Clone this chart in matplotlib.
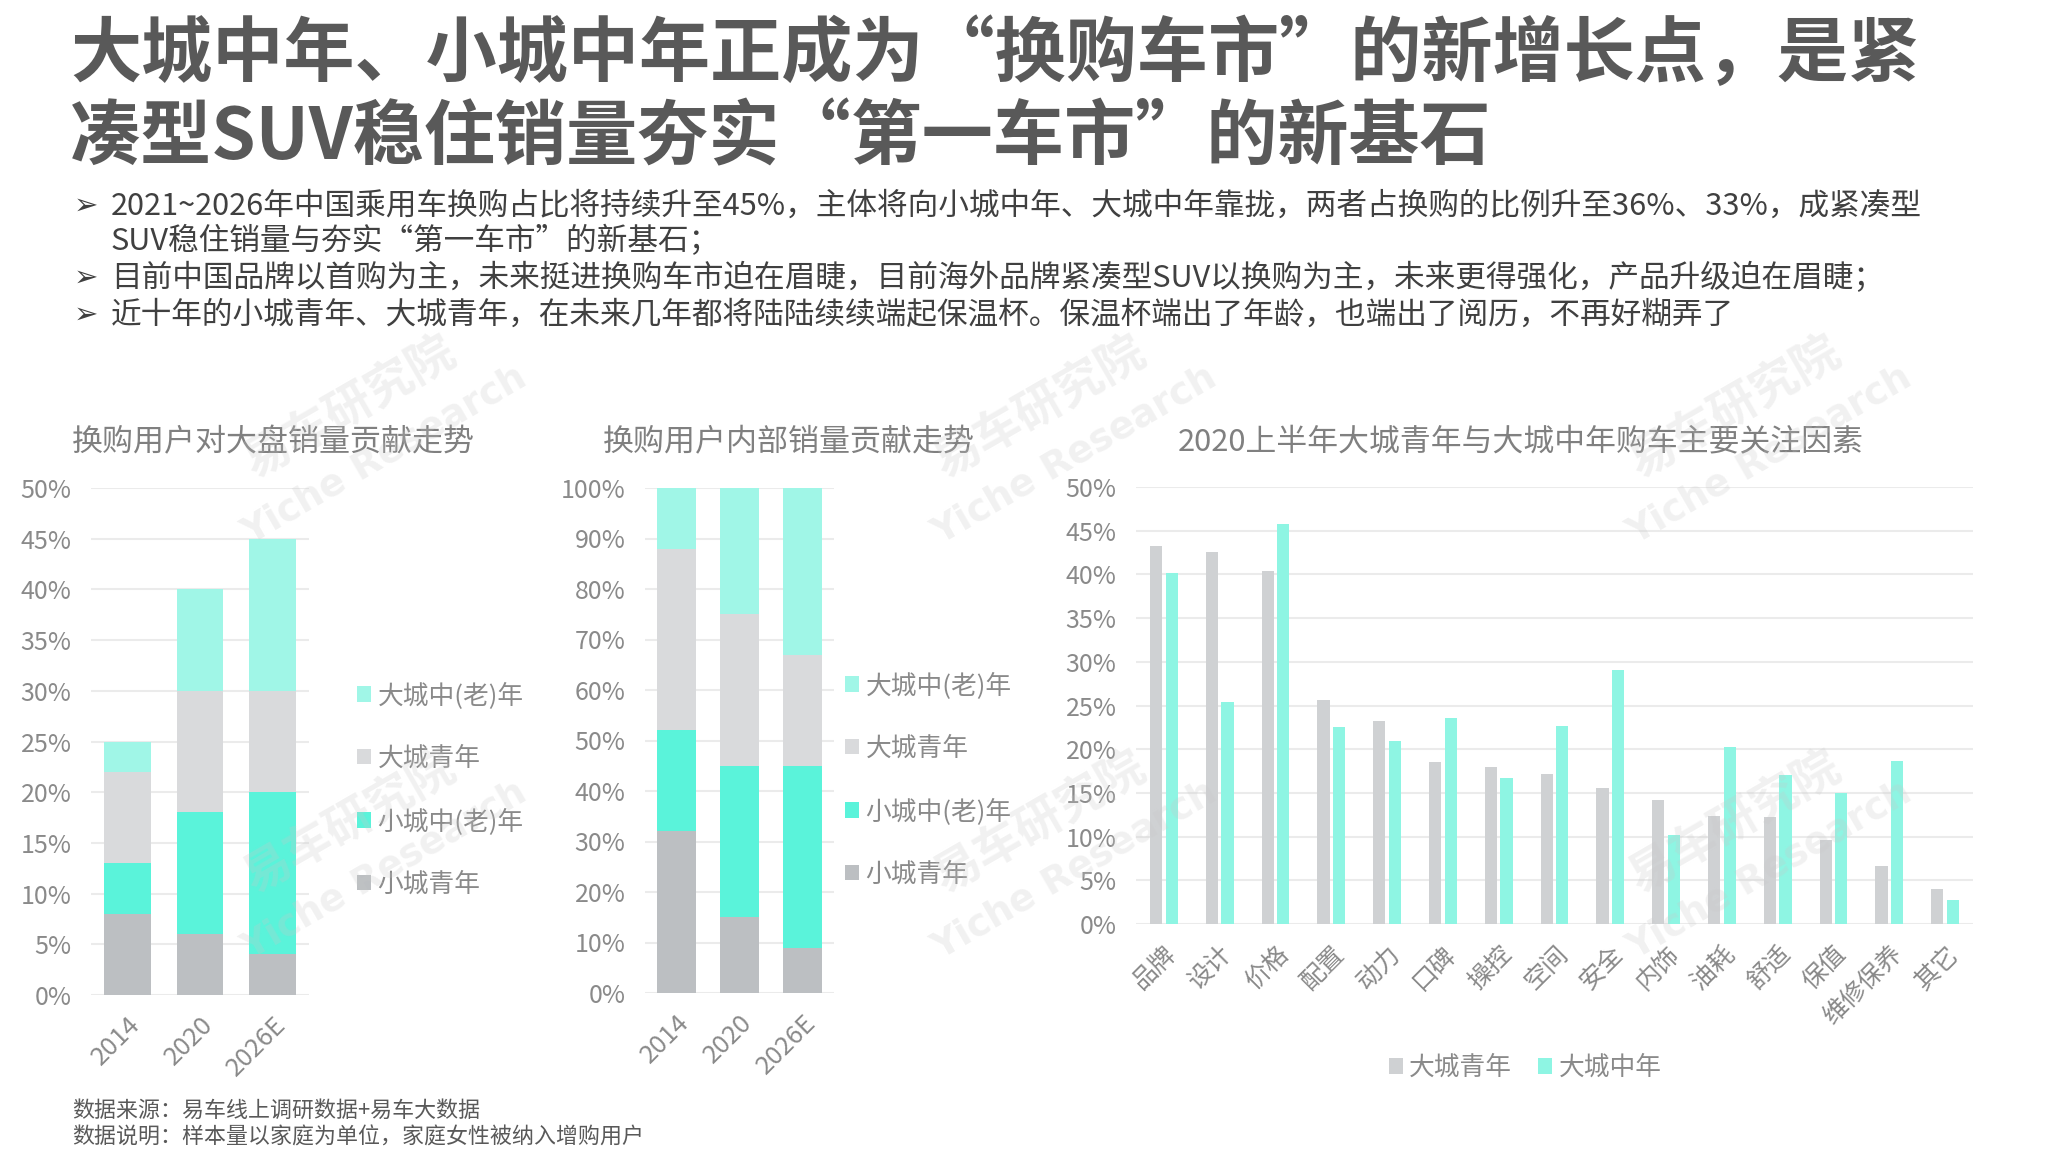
import numpy as np
import matplotlib
matplotlib.use('Agg')
import matplotlib.pyplot as plt

plt.rcParams['font.family'] = ['Noto Sans CJK SC', 'DejaVu Sans']

# chart 1 / chart 2 data
years = ['2014', '2020', '2026E']
series_names = ['小城青年', '小城中(老)年', '大城青年', '大城中(老)年']
share_total = {
    '小城青年': [8, 6, 4],
    '小城中(老)年': [5, 12, 16],
    '大城青年': [9, 12, 10],
    '大城中(老)年': [3, 10, 15],
}
share_inner = {
    '小城青年': [32, 15, 9],
    '小城中(老)年': [20, 30, 36],
    '大城青年': [36, 30, 22],
    '大城中(老)年': [12, 25, 33],
}
series_colors = ['#bcbfc2', '#5af3da', '#d9dadc', '#a0f6e7']

# chart 3 data
factors = ['品牌', '设计', '价格', '配置', '动力', '口碑', '操控', '空间', '安全',
           '内饰', '油耗', '舒适', '保值', '维修保养', '其它']
young = [43.2, 42.6, 40.4, 25.6, 23.2, 18.5, 18.0, 17.2, 15.6, 14.2, 12.3, 12.2, 9.6, 6.6, 4.0]
middle = [40.2, 25.4, 45.8, 22.5, 20.9, 23.6, 16.7, 22.7, 29.1, 10.2, 20.3, 17.1, 15.0, 18.6, 2.7]

title_lines = ['大城中年、小城中年正成为“换购车市”的新增长点，是紧',
               '凑型SUV稳住销量夯实“第一车市”的新基石']
bullets = [
    ('2021~2026年中国乘用车换购占比将持续升至45%，主体将向小城中年、大城中年靠拢，两者占换购的比例升至36%、33%，成紧凑型', True),
    ('SUV稳住销量与夯实“第一车市”的新基石；', False),
    ('目前中国品牌以首购为主，未来挺进换购车市迫在眉睫，目前海外品牌紧凑型SUV以换购为主，未来更得强化，产品升级迫在眉睫；', True),
    ('近十年的小城青年、大城青年，在未来几年都将陆陆续续端起保温杯。保温杯端出了年龄，也端出了阅历，不再好糊弄了', True),
]
notes = ['数据来源：易车线上调研数据+易车大数据',
         '数据说明：样本量以家庭为单位，家庭女性被纳入增购用户']

W, H = 2048, 1152
fig = plt.figure(figsize=(W / 100, H / 100), dpi=100)
fig.patch.set_facecolor('white')

def fx(px):
    return px / W

def fy(py):
    return 1 - py / H

tick_color = '#8a8a8a'
grid_color = '#ebebeb'

# headline
for i, line in enumerate(title_lines):
    fig.text(fx(70), fy(55 + i * 83), line, fontsize=51.2, fontweight='bold',
             color='#595959', va='center', ha='left')

bullet_y = [206, 241, 278, 315]
for (txt, arrow), by in zip(bullets, bullet_y):
    if arrow:
        fig.text(fx(74), fy(by), '➢', fontsize=21, color='#404040', va='center',
                 family=['DejaVu Sans'])
    fig.text(fx(111), fy(by), txt, fontsize=22.1, color='#404040', va='center')


def style_axes(ax, ymax, step, size=18):
    ax.set_ylim(0, ymax)
    ax.set_yticks(np.arange(0, ymax + 0.01, step))
    ax.set_yticklabels(['%d%%' % v for v in np.arange(0, ymax + 0.01, step)])
    ax.grid(axis='y', color=grid_color, linewidth=1.5)
    ax.set_axisbelow(True)
    for s in ax.spines.values():
        s.set_visible(False)
    ax.tick_params(axis='both', length=0, colors=tick_color, labelsize=size)
    ax.tick_params(axis='y', pad=14)


def stacked(ax, data, width, legend_xy):
    x = np.arange(len(years))
    bottom = np.zeros(len(years))
    handles = []
    for name, col in zip(series_names, series_colors):
        vals = np.array(data[name], dtype=float)
        h = ax.bar(x, vals, width, bottom=bottom, color=col, label=name, zorder=2)
        handles.append(h)
        bottom += vals
    ax.set_xlim(-0.5, len(years) - 0.5)
    ax.set_xticks(x)
    ax.set_xticklabels(years, rotation=45, ha='right', rotation_mode='anchor', fontsize=18.5)
    ax.tick_params(axis='x', pad=12)
    fig.legend(handles[::-1], series_names[::-1], loc='center left',
               bbox_to_anchor=legend_xy, frameon=False, fontsize=18.5,
               labelcolor=tick_color, handlelength=0.55, handleheight=0.55,
               handletextpad=0.25, labelspacing=1.42, borderpad=0, borderaxespad=0)


ax1 = fig.add_axes([fx(91), fy(995), fx(309 - 91), (995 - 488) / H])
style_axes(ax1, 50, 5)
stacked(ax1, share_total, 0.64, (fx(357), fy(790)))
fig.text(fx(72), fy(443), '换购用户对大盘销量贡献走势', fontsize=22.3, color='#808080', va='center')

ax2 = fig.add_axes([fx(645), fy(993), fx(834 - 645), (993 - 488) / H])
style_axes(ax2, 100, 10)
stacked(ax2, share_inner, 0.63, (fx(845), fy(780)))
fig.text(fx(603), fy(443), '换购用户内部销量贡献走势', fontsize=22.3, color='#808080', va='center')

# chart 3
ax3 = fig.add_axes([fx(1136), fy(924), fx(1973 - 1136), (924 - 487) / H])
style_axes(ax3, 50, 5)
xf = np.arange(len(factors))
bw = 0.22
b1 = ax3.bar(xf - 0.14, young, bw, color='#cfd1d3', label='大城青年', zorder=2)
b2 = ax3.bar(xf + 0.14, middle, bw, color='#8ef5e3', label='大城中年', zorder=2)
ax3.set_xlim(-0.5, len(factors) - 0.5)
ax3.set_xticks(xf)
ax3.set_xticklabels(factors, rotation=45, ha='right', rotation_mode='anchor', fontsize=18)
ax3.tick_params(axis='x', pad=12)
fig.legend([b1, b2], ['大城青年', '大城中年'], loc='center', ncol=2,
           bbox_to_anchor=(fx(1525), fy(1068)), frameon=False, fontsize=18.5,
           labelcolor=tick_color, handlelength=0.55, handleheight=0.55,
           handletextpad=0.25, columnspacing=1.0, borderpad=0)
fig.text(fx(1178), fy(443), '2020上半年大城青年与大城中年购车主要关注因素', fontsize=22.2,
         color='#808080', va='center')

# footer notes
for i, n in enumerate(notes):
    fig.text(fx(72), fy(1111 + i * 27), n, fontsize=15.8, color='#595959', va='center')

# watermarks
for wx in [350, 1040, 1735]:
    for wy in [425, 840]:
        fig.text(fx(wx), fy(wy - 18), '易车研究院', fontsize=34, fontweight='bold',
                 color='#c8c8c8', alpha=0.25, rotation=30, ha='center', va='center', zorder=10)
        fig.text(fx(wx + 35), fy(wy + 30), 'Yiche Research', fontsize=27, fontweight='bold',
                 color='#c8c8c8', alpha=0.25, rotation=30, ha='center', va='center', zorder=10,
                 family=['DejaVu Sans'])

fig.savefig('out.png', dpi=100)
